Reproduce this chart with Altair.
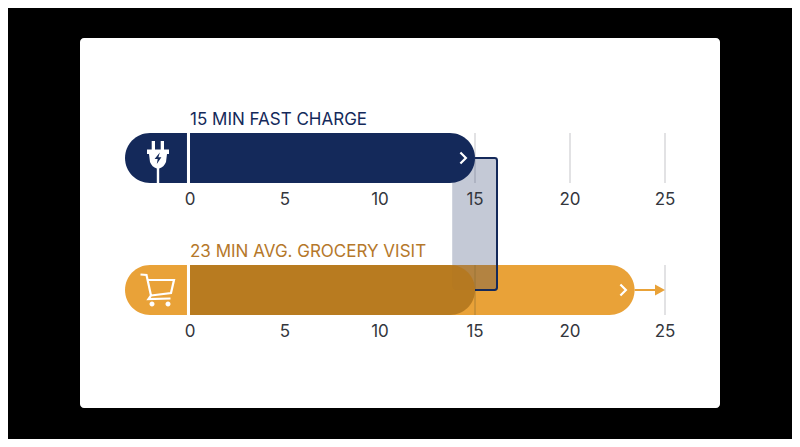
import altair as alt
import pandas as pd

# chart values, in minutes
tick_values = [0, 5, 10, 15, 20, 25]
row_titles = ["15 MIN FAST CHARGE", "23 MIN AVG. GROCERY VISIT"]
bar_starts = [-3.42, -3.42]
bar_ends = [15, 23.4]
grid_values_top = [15, 20, 25]
grid_values_bottom = [25]
overlap_start = 13.8
overlap_end = 16.2
arrow_end = 25

NAVY = "#14295a"
ORANGE = "#e9a238"
BROWN = "#b5781f"
GREY = "#cfcfd2"
ROW_Y = [158, 290]
HALF = 25

x_scale = alt.Scale(domain=[-9.579, 31.684], range=[0, 784], nice=False, zero=False)
y_scale = alt.Scale(domain=[8, 439], range=[0, 431], nice=False, zero=False)

X = lambda f="x": alt.X(f"{f}:Q", scale=x_scale, axis=None)
Y = lambda f="y": alt.Y(f"{f}:Q", scale=y_scale, axis=None)


def span(x, x2, y, y2):
    return pd.DataFrame({"x": [x], "x2": [x2], "y": [y], "y2": [y2]})


def rect(df, **mark):
    return (
        alt.Chart(df)
        .mark_rect(**mark)
        .encode(x=X(), x2="x2:Q", y=Y(), y2="y2:Q")
    )


def icon(path, px, py, **mark):
    # size 4 makes one path unit one pixel
    return (
        alt.Chart(pd.DataFrame({"y": [py]}))
        .mark_point(shape=path, size=4, opacity=1, **mark)
        .encode(x=alt.value(px - 8), y=Y())
    )


def chevron(px, py):
    return icon("M-2.6,-5.5L2.9,0L-2.6,5.5", px, py, filled=False, color="white", strokeWidth=2.2)


card = (
    alt.Chart(pd.DataFrame({"y": [38], "y2": [408]}))
    .mark_rect(color="white", cornerRadius=4)
    .encode(x=alt.value(72), x2=alt.value(712), y=Y(), y2="y2:Q")
)

grid = pd.concat(
    [
        pd.DataFrame({"x": grid_values_top, "y": ROW_Y[0] - HALF, "y2": ROW_Y[0] + HALF}),
        pd.DataFrame({"x": grid_values_bottom, "y": ROW_Y[1] - HALF, "y2": ROW_Y[1] + HALF}),
    ]
)
grid_rules = (
    alt.Chart(grid)
    .mark_rule(color=GREY, strokeWidth=1.2)
    .encode(x=X(), y=Y(), y2="y2:Q")
)

orange_bar = rect(
    span(bar_starts[1], bar_ends[1], ROW_Y[1] - HALF, ROW_Y[1] + HALF),
    color=ORANGE,
    cornerRadius=HALF,
)
band = rect(
    span(overlap_start, overlap_end, ROW_Y[0], ROW_Y[1]),
    color=NAVY,
    opacity=0.25,
    cornerRadius=4,
)
faint_rule = (
    alt.Chart(pd.DataFrame({"x": [15], "y": [ROW_Y[1] - HALF], "y2": [ROW_Y[1] + HALF]}))
    .mark_rule(color="#8a6a30", strokeWidth=1, opacity=0.6)
    .encode(x=X(), y=Y(), y2="y2:Q")
)
brown_bar = rect(
    span(0, bar_ends[0], ROW_Y[1] - HALF, ROW_Y[1] + HALF),
    color=BROWN,
    opacity=0.94,
    cornerRadiusTopRight=HALF,
    cornerRadiusBottomRight=HALF,
)
navy_bar = rect(
    span(bar_starts[0], bar_ends[0], ROW_Y[0] - HALF, ROW_Y[0] + HALF),
    color=NAVY,
    cornerRadius=HALF,
)
dividers = rect(
    pd.DataFrame(
        {
            "x": [-0.16, -0.16],
            "x2": [0, 0],
            "y": [r - HALF for r in ROW_Y],
            "y2": [r + HALF for r in ROW_Y],
        }
    ),
    color="white",
)

# bracket around the overlap, open on the left
bracket = icon(
    "M-11,-66L8.6,-66Q11,-66 11,-63.6L11,63.6Q11,66 8.6,66L-11,66",
    486,
    224,
    filled=False,
    color=NAVY,
    strokeWidth=2,
)

tick_df = pd.DataFrame(
    [{"x": t, "y": y} for t in tick_values for y in (200, 332)]
)
tick_labels = (
    alt.Chart(tick_df)
    .mark_text(font="Inter", fontSize=17, color="#33363d", align="center", baseline="middle")
    .encode(x=X(), y=Y(), text=alt.Text("x:Q", format="d"))
)

title_top = (
    alt.Chart(pd.DataFrame({"x": [0], "y": [120], "t": [row_titles[0]]}))
    .mark_text(font="Inter", fontSize=17, color=NAVY, align="left", baseline="middle")
    .encode(x=X(), y=Y(), text="t:N")
)
title_bottom = (
    alt.Chart(pd.DataFrame({"x": [0], "y": [252], "t": [row_titles[1]]}))
    .mark_text(font="Inter", fontSize=17, color="#b5782a", align="left", baseline="middle")
    .encode(x=X(), y=Y(), text="t:N")
)

arrow_line = (
    alt.Chart(pd.DataFrame({"x": [bar_ends[1]], "x2": [arrow_end - 0.4], "y": [ROW_Y[1]]}))
    .mark_rule(color=ORANGE, strokeWidth=2)
    .encode(x=X(), x2="x2:Q", y=Y())
)
arrow_head = icon("M-10,-5.5L0,0L-10,5.5Z", 665, ROW_Y[1], filled=True, color=ORANGE)

plug = icon(
    "M-6.3,-17L-3,-17L-3,-8.5L2.7,-8.5L2.7,-17L6,-17L6,-8.5L11,-8.5L11,-4L9,-4L8,4Q6,9 1.2,10.5L1.2,25"
    "L-1.2,25L-1.2,10.5Q-6,9 -8,4L-9,-4L-11,-4L-11,-8.5L-6.3,-8.5Z",
    158,
    158,
    filled=True,
    color="white",
)
bolt = icon("M1.8,-5.5L-3.4,1L-0.3,1L-1.2,6L3.4,-0.8L0.4,-0.8Z", 158, 158, filled=True, color=NAVY)

cart = icon(
    "M-16.5,-15.5L-10.5,-15L-6,5.5L-8.5,9L13.5,8.5M-9.5,-10L17,-10L14,3L-6,5.5",
    157,
    290,
    filled=False,
    color="white",
    strokeWidth=2.2,
)
wheel_a = icon("M-2.5,0A2.5,2.5 0 1,1 2.5,0A2.5,2.5 0 1,1 -2.5,0Z", 152, 304, filled=True, color="white")
wheel_b = icon("M-2.5,0A2.5,2.5 0 1,1 2.5,0A2.5,2.5 0 1,1 -2.5,0Z", 168, 304, filled=True, color="white")

chart = (
    alt.layer(
        card,
        grid_rules,
        orange_bar,
        band,
        faint_rule,
        brown_bar,
        bracket,
        navy_bar,
        dividers,
        tick_labels,
        title_top,
        title_bottom,
        arrow_line,
        arrow_head,
        plug,
        bolt,
        cart,
        wheel_a,
        wheel_b,
        chevron(463, ROW_Y[0]),
        chevron(623, ROW_Y[1]),
    )
    .properties(width=784, height=431, padding=0, background="black")
    .configure_view(stroke=None)
)

chart.save("out.html", embed_options={"renderer": "svg", "actions": False})
